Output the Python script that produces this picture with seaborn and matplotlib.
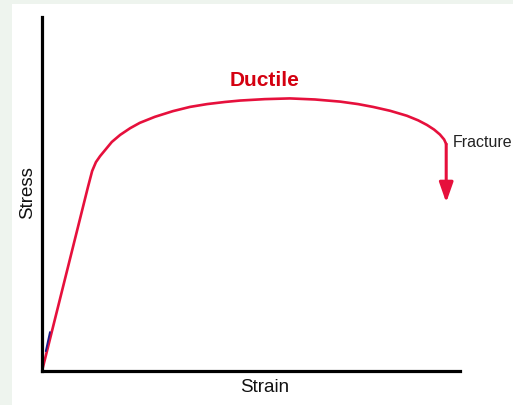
import matplotlib
matplotlib.use("Agg")
import matplotlib.pyplot as plt
import matplotlib.patches as mpatches
import pandas as pd
import seaborn as sns

# stress-strain curve, normalised units (0..1 on both axes)
strain = [0.000, 0.110, 0.120, 0.129, 0.139, 0.153, 0.167, 0.187, 0.211, 0.234,
          0.270, 0.313, 0.354, 0.395, 0.438, 0.474, 0.533, 0.593, 0.653, 0.713,
          0.756, 0.792, 0.833, 0.873, 0.900, 0.921, 0.938, 0.952, 0.962, 0.967]
stress = [0.000, 0.520, 0.565, 0.590, 0.607, 0.627, 0.647, 0.667, 0.686, 0.701,
          0.718, 0.734, 0.746, 0.754, 0.760, 0.764, 0.768, 0.770, 0.767, 0.761,
          0.754, 0.746, 0.735, 0.721, 0.708, 0.695, 0.682, 0.668, 0.654, 0.641]

# small blue trace near the origin
blue_strain = [0.009, 0.019]
blue_stress = [0.056, 0.110]

fracture_start = (0.967, 0.641)
fracture_end = (0.967, 0.476)

title_label = "Ductile"
fracture_label = "Fracture"
x_label = "Strain"
y_label = "Stress"

sns.set_theme(style="white")
plt.rcParams["font.family"] = ["Liberation Sans", "DejaVu Sans"]

fig = plt.figure(figsize=(5.13, 4.06), dpi=100)
fig.patch.set_facecolor("#eef4ee")
fig.patches.append(mpatches.Rectangle((12 / 513, 0), 1, 401 / 406, transform=fig.transFigure,
                                      facecolor="white", edgecolor="none", zorder=-10))

ax = fig.add_axes([42 / 513, 34 / 406, 418 / 513, 354 / 406])
ax.set_zorder(2)
ax.set_facecolor("none")

df = pd.DataFrame({"strain": strain, "stress": stress})
sns.lineplot(data=df, x="strain", y="stress", sort=False, color="#e6103c", lw=1.9, ax=ax,
             solid_joinstyle="round")
ax.plot(blue_strain, blue_stress, color="#1a1a8c", lw=1.3)

ax.annotate("", xy=fracture_end, xytext=fracture_start,
            arrowprops=dict(arrowstyle="-|>,head_length=0.8,head_width=0.28", color="#e6103c",
                            lw=2.2, mutation_scale=15, shrinkA=0, shrinkB=0))

ax.set_xlim(0, 1)
ax.set_ylim(0, 1)
ax.set_xticks([])
ax.set_yticks([])
ax.set_xlabel("")
ax.set_ylabel("")
for side in ["top", "right"]:
    ax.spines[side].set_visible(False)
for side in ["left", "bottom"]:
    ax.spines[side].set_color("black")
    ax.spines[side].set_linewidth(2.3)

fig.text(265 / 513, 1 - 81 / 406, title_label, color="#d40010", fontsize=15, fontweight="bold",
         ha="center", va="center")
fig.text(453 / 513, 1 - 143 / 406, fracture_label, color="#222222", fontsize=11.5,
         ha="left", va="center")
fig.text(265 / 513, 1 - 388 / 406, x_label, color="#111111", fontsize=13.5, ha="center", va="center")
fig.text(28 / 513, 1 - 193 / 406, y_label, color="#111111", fontsize=13.5, rotation=90,
         ha="center", va="center")

fig.savefig("out.png", dpi=100)
